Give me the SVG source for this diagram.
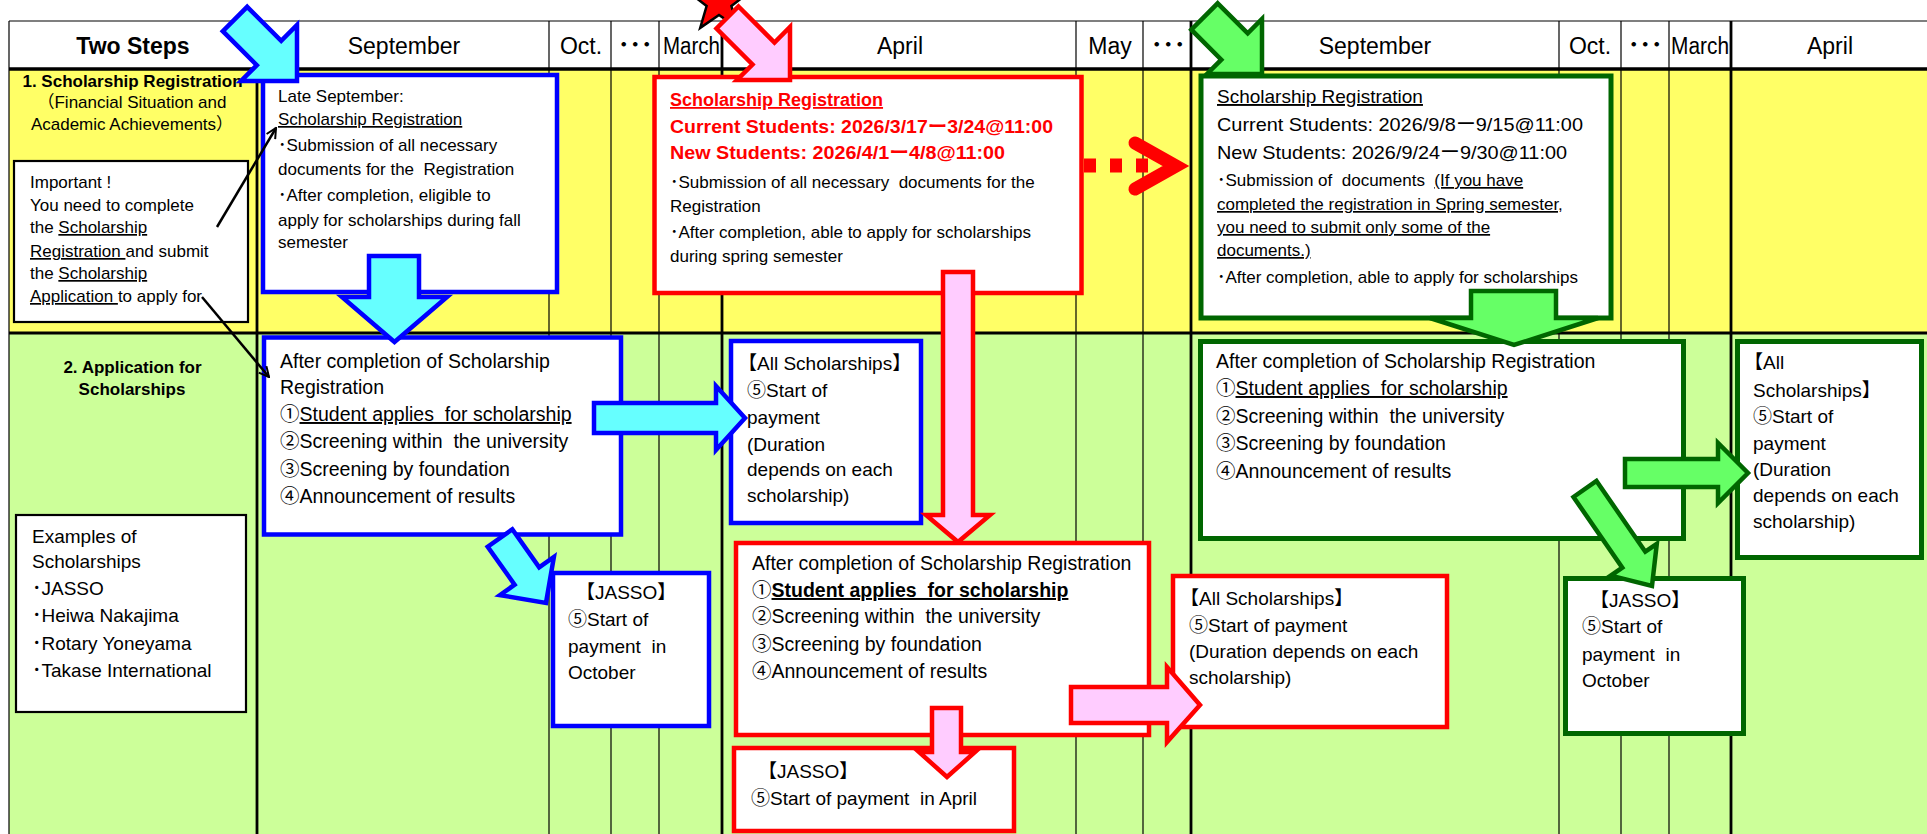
<svg xmlns="http://www.w3.org/2000/svg" width="1927" height="834" viewBox="0 0 1927 834">
<style>
text { font-family: "Liberation Sans", "Noto Sans CJK JP", sans-serif; fill: #000; white-space: pre; }
.hdr { font-size: 23px; text-anchor: middle; }
.dots { font-size: 23px; font-weight: bold; }
.mid { text-anchor: middle; }
.s17 { font-size: 17px; }
.s18 { font-size: 18px; }
.s19 { font-size: 19px; }
.s195 { font-size: 19.5px; }
.bold { font-weight: bold; }
.u { text-decoration: underline; }
.red { fill: #FF0000; }
.thin { stroke: #000; stroke-width: 1.2; }
.thick { stroke: #000; stroke-width: 2.8; }
.bbox { fill: #fff; stroke: #0000FF; stroke-width: 4.5; }
.rbox { fill: #fff; stroke: #FF0000; stroke-width: 4.5; }
.gbox { fill: #fff; stroke: #006600; stroke-width: 5; }
.kbox { fill: #fff; stroke: #000; stroke-width: 2.2; }
.carr { fill: #66FFFF; stroke: #0000FF; stroke-width: 4.5; }
.parr { fill: #FFCCFF; stroke: #FF0000; stroke-width: 4.5; }
.garr { fill: #66FF66; stroke: #006600; stroke-width: 4.5; }
.karr { fill: none; stroke: #000; stroke-width: 2.5; marker-end: url(#ah); }
</style>
<defs>
<marker id="ah" viewBox="0 0 10 10" refX="9" refY="5" markerWidth="5" markerHeight="5" orient="auto" markerUnits="strokeWidth">
<path d="M1,1 L9,5 L1,9" fill="none" stroke="#000" stroke-width="1.6"/>
</marker>
</defs>
<rect x="0" y="0" width="1927" height="834" fill="#fff"/>
<g id="table">
<rect x="9" y="69" width="1918" height="264" fill="#FFFF66"/>
<rect x="9" y="333" width="1918" height="501" fill="#CCFF99"/>
<line class="thin" x1="9" y1="21" x2="1927" y2="21"/>
<line class="thin" x1="9" y1="21" x2="9" y2="834"/>
<line class="thin" x1="549" y1="21" x2="549" y2="834"/>
<line class="thin" x1="611" y1="21" x2="611" y2="834"/>
<line class="thin" x1="659" y1="21" x2="659" y2="834"/>
<line class="thin" x1="1076" y1="21" x2="1076" y2="834"/>
<line class="thin" x1="1143" y1="21" x2="1143" y2="834"/>
<line class="thin" x1="1559" y1="21" x2="1559" y2="834"/>
<line class="thin" x1="1621" y1="21" x2="1621" y2="834"/>
<line class="thin" x1="1669" y1="21" x2="1669" y2="834"/>
<line class="thick" x1="257" y1="21" x2="257" y2="834"/>
<line class="thick" x1="722" y1="21" x2="722" y2="834"/>
<line class="thick" x1="1191" y1="21" x2="1191" y2="834"/>
<line class="thick" x1="1731" y1="21" x2="1731" y2="834"/>
<line stroke="#000" stroke-width="3.5" x1="9" y1="69" x2="1927" y2="69"/>
<line stroke="#000" stroke-width="3" x1="9" y1="333" x2="1927" y2="333"/>
<text class="hdr bold" x="133" y="54">Two Steps</text>
<text class="hdr" x="404" y="54">September</text>
<text class="hdr" x="581" y="54">Oct.</text>
<text class="dots" x="618" y="53">･･･</text>
<text style="font-size:23px" x="663" y="54" textLength="57" lengthAdjust="spacingAndGlyphs">March</text>
<text class="hdr" x="900" y="54">April</text>
<text class="hdr" x="1110" y="54">May</text>
<text class="dots" x="1151" y="53">･･･</text>
<text class="hdr" x="1375" y="54">September</text>
<text class="hdr" x="1590" y="54">Oct.</text>
<text class="dots" x="1628" y="53">･･･</text>
<text style="font-size:23px" x="1671" y="54" textLength="58" lengthAdjust="spacingAndGlyphs">March</text>
<text class="hdr" x="1830" y="54">April</text>
<text class="s17 bold mid" x="132.5" y="87">1. Scholarship Registration</text>
<text class="s17 mid" x="132" y="108">（Financial Situation and</text>
<text class="s17 mid" x="132" y="130">Academic Achievements）</text>
<text class="s17 bold mid" x="132.5" y="373">2. Application for</text>
<text class="s17 bold mid" x="132" y="395">Scholarships</text>
</g>
<g id="important">
<rect class="kbox" x="14" y="161" width="234" height="161"/>
<text class="s17" x="30" y="188">Important !</text>
<text class="s17" x="30" y="211">You need to complete</text>
<text class="s17" x="30" y="233">the <tspan class="u">Scholarship</tspan></text>
<text class="s17" x="30" y="257"><tspan class="u">Registration </tspan>and submit</text>
<text class="s17" x="30" y="279">the <tspan class="u">Scholarship</tspan></text>
<text class="s17" x="30" y="302"><tspan class="u">Application </tspan>to apply for</text>
</g>
<g id="examples">
<rect class="kbox" x="16" y="515" width="230" height="197"/>
<text class="s19" x="32" y="543">Examples of</text>
<text class="s19" x="32" y="568">Scholarships</text>
<text class="s19" x="32" y="595">･JASSO</text>
<text class="s19" x="32" y="622">･Heiwa Nakajima</text>
<text class="s19" x="32" y="650">･Rotary Yoneyama</text>
<text class="s19" x="32" y="677">･Takase International</text>
</g>
<g id="blue-registration">
<rect class="bbox" x="263" y="75" width="294" height="217"/>
<text class="s17" x="278" y="102">Late September:</text>
<text class="s17" x="278" y="125"><tspan class="u">Scholarship Registration</tspan></text>
<text class="s17" x="278" y="151">･Submission of all necessary</text>
<text class="s17" x="278" y="175">documents for the  Registration</text>
<text class="s17" x="278" y="201">･After completion, eligible to</text>
<text class="s17" x="278" y="226">apply for scholarships during fall</text>
<text class="s17" x="278" y="248">semester</text>
</g>
<g id="blue-application">
<rect class="bbox" x="264" y="337.5" width="357" height="197"/>
<text class="s195" x="280" y="368">After completion of Scholarship</text>
<text class="s195" x="280" y="394">Registration</text>
<text class="s195" x="280" y="421">①<tspan class="u">Student applies  for scholarship</tspan></text>
<text class="s195" x="280" y="448">②Screening within  the university</text>
<text class="s195" x="280" y="476">③Screening by foundation</text>
<text class="s195" x="280" y="503">④Announcement of results</text>
</g>
<g id="blue-all">
<rect class="bbox" x="731" y="341" width="190" height="182"/>
<text class="s19" x="738" y="370">【All Scholarships】</text>
<text class="s19" x="747" y="397">⑤Start of</text>
<text class="s19" x="747" y="424">payment</text>
<text class="s19" x="747" y="451">(Duration</text>
<text class="s19" x="747" y="476">depends on each</text>
<text class="s19" x="747" y="502">scholarship)</text>
</g>
<g id="blue-jasso">
<rect class="bbox" x="553" y="573" width="156" height="153"/>
<text class="s19" x="576" y="599">【JASSO】</text>
<text class="s19" x="568" y="626">⑤Start of</text>
<text class="s19" x="568" y="653">payment  in</text>
<text class="s19" x="568" y="679">October</text>
</g>
<g id="red-registration">
<rect class="rbox" x="654.5" y="77" width="427" height="216"/>
<text class="s18 bold red" x="670" y="106"><tspan class="u">Scholarship Registration</tspan></text>
<text class="s18 bold red" x="670" y="133" textLength="383" lengthAdjust="spacingAndGlyphs">Current Students: 2026/3/17ー3/24@11:00</text>
<text class="s18 bold red" x="670" y="159" textLength="335" lengthAdjust="spacingAndGlyphs">New Students: 2026/4/1ー4/8@11:00</text>
<text class="s17" x="670" y="188">･Submission of all necessary  documents for the</text>
<text class="s17" x="670" y="212">Registration</text>
<text class="s17" x="670" y="238">･After completion, able to apply for scholarships</text>
<text class="s17" x="670" y="262">during spring semester</text>
</g>
<g id="red-application">
<rect class="rbox" x="736" y="543" width="413" height="192"/>
<text class="s195" x="752" y="570">After completion of Scholarship Registration</text>
<text class="s195" x="752" y="597">①<tspan class="u bold">Student applies  for scholarship</tspan></text>
<text class="s195" x="752" y="623">②Screening within  the university</text>
<text class="s195" x="752" y="651">③Screening by foundation</text>
<text class="s195" x="752" y="678">④Announcement of results</text>
</g>
<g id="red-all">
<rect class="rbox" x="1173" y="576" width="274" height="151"/>
<text class="s19" x="1180" y="605">【All Scholarships】</text>
<text class="s19" x="1189" y="632">⑤Start of payment</text>
<text class="s19" x="1189" y="658">(Duration depends on each</text>
<text class="s19" x="1189" y="684">scholarship)</text>
</g>
<g id="red-jasso">
<rect class="rbox" x="734" y="748" width="280" height="83"/>
<text class="s19" x="758" y="778">【JASSO】</text>
<text class="s19" x="751" y="805">⑤Start of payment  in April</text>
</g>
<g id="green-registration">
<rect class="gbox" x="1201" y="76" width="410" height="242"/>
<text class="s19" x="1217" y="103"><tspan class="u">Scholarship Registration</tspan></text>
<text class="s19" x="1217" y="131" textLength="366" lengthAdjust="spacingAndGlyphs">Current Students: 2026/9/8ー9/15@11:00</text>
<text class="s19" x="1217" y="159" textLength="350" lengthAdjust="spacingAndGlyphs">New Students: 2026/9/24ー9/30@11:00</text>
<text class="s17" x="1217" y="186">･Submission of  documents  <tspan class="u">(If you have</tspan></text>
<text class="s17" x="1217" y="210"><tspan class="u">completed the registration in Spring semester,</tspan></text>
<text class="s17" x="1217" y="233"><tspan class="u">you need to submit only some of the</tspan></text>
<text class="s17" x="1217" y="256"><tspan class="u">documents.)</tspan></text>
<text class="s17" x="1217" y="283">･After completion, able to apply for scholarships</text>
</g>
<g id="green-application">
<rect class="gbox" x="1200.5" y="341.5" width="483" height="197"/>
<text class="s195" x="1216" y="368">After completion of Scholarship Registration</text>
<text class="s195" x="1216" y="395">①<tspan class="u">Student applies  for scholarship</tspan></text>
<text class="s195" x="1216" y="423">②Screening within  the university</text>
<text class="s195" x="1216" y="450">③Screening by foundation</text>
<text class="s195" x="1216" y="478">④Announcement of results</text>
</g>
<g id="green-jasso">
<rect class="gbox" x="1565.5" y="578.5" width="178" height="155"/>
<text class="s19" x="1590" y="607">【JASSO】</text>
<text class="s19" x="1582" y="633">⑤Start of</text>
<text class="s19" x="1582" y="661">payment  in</text>
<text class="s19" x="1582" y="687">October</text>
</g>
<g id="green-all">
<rect class="gbox" x="1737.5" y="341.5" width="184" height="216"/>
<text class="s19" x="1744" y="369">【All</text>
<text class="s19" x="1753" y="397">Scholarships】</text>
<text class="s19" x="1753" y="423">⑤Start of</text>
<text class="s19" x="1753" y="450">payment</text>
<text class="s19" x="1753" y="476">(Duration</text>
<text class="s19" x="1753" y="502">depends on each</text>
<text class="s19" x="1753" y="528">scholarship)</text>
</g>
<g id="star">
<polygon points="719,-30 726.6,-8.5 749.4,-7.9 731.4,6 737.8,27.9 719,15 700.2,27.9 706.6,6 688.6,-7.9 711.4,-8.5" fill="#FF0000" stroke="#000" stroke-width="2.5"/>
</g>
<g id="connectors">
<polygon class="carr" points="247.2,6.8 281.2,40.8 297,25 297,81 241,81 256.8,65.2 222.8,31.2"/>
<polygon class="carr" points="369,256 419,256 419,297 447,297 394.5,342 342,297 369,297"/>
<polygon class="carr" points="594,403 716,403 716,386 745,418 716,450 716,433 594,433"/>
<polygon class="carr" points="512.3,529.3 539.2,567.3 553.9,556.9 546,603 499.9,595.1 514.6,584.7 487.7,546.7"/>
<polygon class="parr" points="738.5,6.5 774.5,42.5 790,27 790,80 737,80 752.5,64.5 716.5,28.5"/>
<polygon class="parr" points="943,272 973,272 973,515 990,515 958,542 926,515 943,515"/>
<polygon class="parr" points="1071,687 1167,687 1167,667 1200,705 1167,742 1167,723 1071,723"/>
<polygon class="parr" points="932,708 961,708 961,752 975,752 947,777 919,752 932,752"/>
<line x1="1084" y1="165.5" x2="1152" y2="165.5" stroke="#FF0000" stroke-width="14" stroke-dasharray="12 14"/>
<polyline points="1135,143 1176,166 1135,189" fill="none" stroke="#FF0000" stroke-width="13" stroke-linecap="round" stroke-linejoin="miter"/>
<polygon class="garr" points="1217.7,3.3 1247.7,33.3 1262,19 1262,74 1207,74 1221.3,59.7 1191.3,29.7"/>
<polygon class="garr" points="1471,291 1556,291 1556,318 1598,318 1514,345 1430,318 1471,318"/>
<polygon class="garr" points="1625,459 1718,459 1718,443 1748,473 1718,503 1718,487 1625,487"/>
<polygon class="garr" points="1596.5,481 1645.3,551.7 1656.8,543.8 1652,586 1610.8,575.6 1622.3,567.7 1573.5,497"/>
<line class="karr" x1="217" y1="227" x2="276" y2="128"/>
<line class="karr" x1="202" y1="297" x2="269" y2="377"/>
</g>
</svg>
